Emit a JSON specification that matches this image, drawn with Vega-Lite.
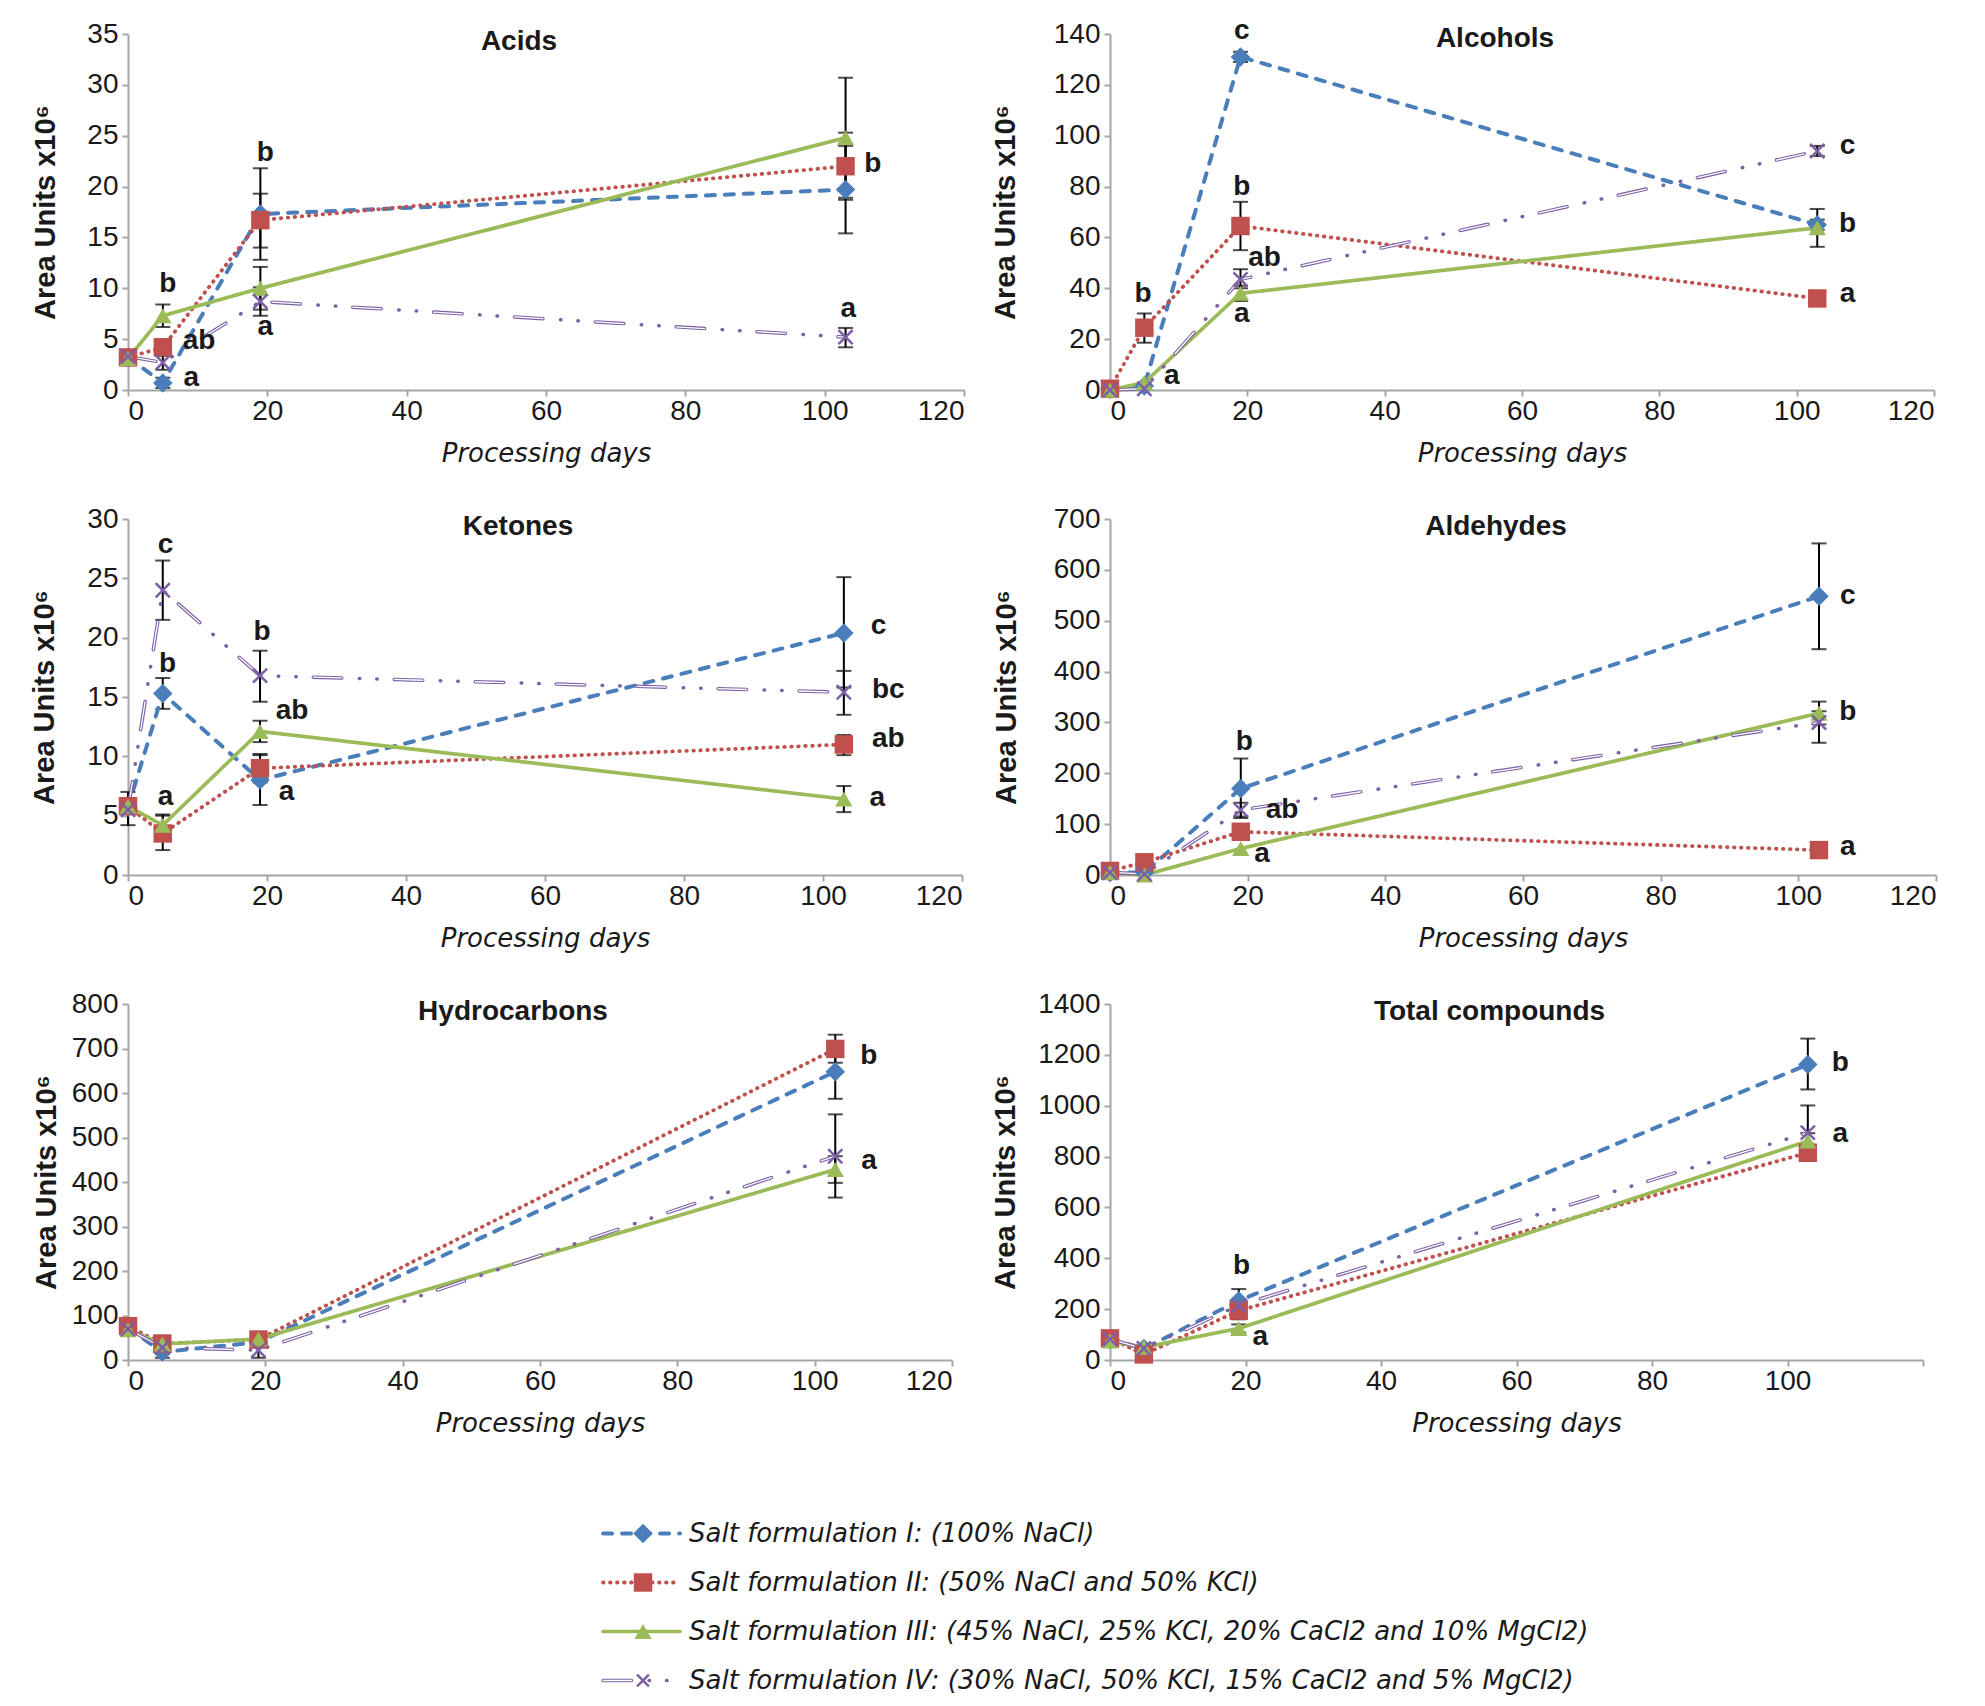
{
  "$schema": "https://vega.github.io/schema/vega-lite/v6.json",
  "background": "white",
  "padding": {"left": 30, "top": 17, "right": 10, "bottom": 0},
  "config": {
    "view": {"stroke": null},
    "font": "Liberation Sans",
    "axis": {
      "grid": false,
      "domainColor": "#A6A6A6", "domainWidth": 2,
      "tickColor": "#A6A6A6", "tickWidth": 2, "tickSize": 6,
      "labelFont": "Liberation Sans", "labelFontSize": 28, "labelColor": "#1a1a1a",
      "titleColor": "#1a1a1a"
    },
    "axisX": {"labelPadding": 1, "titleFont": "DejaVu Sans", "titleFontStyle": "italic", "titleFontWeight": "normal", "titleFontSize": 26, "titlePadding": 15},
    "axisY": {"labelPadding": 4, "titleFont": "Liberation Sans", "titleFontWeight": "bold", "titleFontSize": 29, "titleBaseline": "middle"},
    "title": {"font": "Liberation Sans", "fontSize": 28, "fontWeight": "bold", "color": "#1a1a1a", "anchor": "middle", "frame": "group", "offset": -36, "baseline": "alphabetic", "dx": -27}
  },
  "datasets": {
    "pts": [
      {"panel": "Acids", "series": "I", "day": 0, "v": 3.2},
      {"panel": "Acids", "series": "I", "day": 5, "v": 0.7, "lo": 0.2, "hi": 1.2},
      {"panel": "Acids", "series": "I", "day": 19, "v": 17.3, "lo": 12.8, "hi": 21.8},
      {"panel": "Acids", "series": "I", "day": 103, "v": 19.7, "lo": 15.4, "hi": 24.0},
      {"panel": "Acids", "series": "II", "day": 0, "v": 3.2},
      {"panel": "Acids", "series": "II", "day": 5, "v": 4.2, "lo": 3.4, "hi": 5.0},
      {"panel": "Acids", "series": "II", "day": 19, "v": 16.7, "lo": 14.0, "hi": 19.3},
      {"panel": "Acids", "series": "II", "day": 103, "v": 22.0, "lo": 18.7, "hi": 25.3},
      {"panel": "Acids", "series": "III", "day": 0, "v": 3.1},
      {"panel": "Acids", "series": "III", "day": 5, "v": 7.3, "lo": 6.2, "hi": 8.4},
      {"panel": "Acids", "series": "III", "day": 19, "v": 10.0, "lo": 7.9, "hi": 12.1},
      {"panel": "Acids", "series": "III", "day": 103, "v": 24.8, "lo": 18.9, "hi": 30.7},
      {"panel": "Acids", "series": "IV", "day": 0, "v": 3.3},
      {"panel": "Acids", "series": "IV", "day": 5, "v": 2.7, "lo": 2.0, "hi": 3.4},
      {"panel": "Acids", "series": "IV", "day": 19, "v": 8.7, "lo": 7.3, "hi": 10.1},
      {"panel": "Acids", "series": "IV", "day": 103, "v": 5.2, "lo": 4.2, "hi": 6.1},

      {"panel": "Alcohols", "series": "I", "day": 0, "v": 0.3},
      {"panel": "Alcohols", "series": "I", "day": 5, "v": 1.6},
      {"panel": "Alcohols", "series": "I", "day": 19, "v": 131, "lo": 129, "hi": 133},
      {"panel": "Alcohols", "series": "I", "day": 103, "v": 65, "lo": 63, "hi": 67},
      {"panel": "Alcohols", "series": "II", "day": 0, "v": 0.5},
      {"panel": "Alcohols", "series": "II", "day": 5, "v": 24.5, "lo": 18.6, "hi": 30.1},
      {"panel": "Alcohols", "series": "II", "day": 19, "v": 64.5, "lo": 55, "hi": 74},
      {"panel": "Alcohols", "series": "II", "day": 103, "v": 36},
      {"panel": "Alcohols", "series": "III", "day": 0, "v": 0},
      {"panel": "Alcohols", "series": "III", "day": 5, "v": 2.9},
      {"panel": "Alcohols", "series": "III", "day": 19, "v": 38, "lo": 35, "hi": 41},
      {"panel": "Alcohols", "series": "III", "day": 103, "v": 63.8, "lo": 56.3, "hi": 71.2},
      {"panel": "Alcohols", "series": "IV", "day": 0, "v": 0},
      {"panel": "Alcohols", "series": "IV", "day": 5, "v": 0.5},
      {"panel": "Alcohols", "series": "IV", "day": 19, "v": 43.5, "lo": 40, "hi": 47.5},
      {"panel": "Alcohols", "series": "IV", "day": 103, "v": 94, "lo": 92, "hi": 96},

      {"panel": "Ketones", "series": "I", "day": 0, "v": 5.7, "lo": 4.2, "hi": 7.0},
      {"panel": "Ketones", "series": "I", "day": 5, "v": 15.3, "lo": 14.0, "hi": 16.6},
      {"panel": "Ketones", "series": "I", "day": 19, "v": 8.0, "lo": 5.9, "hi": 10.1},
      {"panel": "Ketones", "series": "I", "day": 103, "v": 20.4, "lo": 15.8, "hi": 25.1},
      {"panel": "Ketones", "series": "II", "day": 0, "v": 5.8},
      {"panel": "Ketones", "series": "II", "day": 5, "v": 3.5, "lo": 2.1, "hi": 5.0},
      {"panel": "Ketones", "series": "II", "day": 19, "v": 9.0, "lo": 7.8, "hi": 10.2},
      {"panel": "Ketones", "series": "II", "day": 103, "v": 11.0, "lo": 10.1, "hi": 11.8},
      {"panel": "Ketones", "series": "III", "day": 0, "v": 5.8},
      {"panel": "Ketones", "series": "III", "day": 5, "v": 4.2, "lo": 3.3, "hi": 5.1},
      {"panel": "Ketones", "series": "III", "day": 19, "v": 12.1, "lo": 11.2, "hi": 13.0},
      {"panel": "Ketones", "series": "III", "day": 103, "v": 6.4, "lo": 5.3, "hi": 7.5},
      {"panel": "Ketones", "series": "IV", "day": 0, "v": 5.5},
      {"panel": "Ketones", "series": "IV", "day": 5, "v": 24.0, "lo": 21.5, "hi": 26.5},
      {"panel": "Ketones", "series": "IV", "day": 19, "v": 16.8, "lo": 14.6, "hi": 18.9},
      {"panel": "Ketones", "series": "IV", "day": 103, "v": 15.4, "lo": 13.5, "hi": 17.2},

      {"panel": "Aldehydes", "series": "I", "day": 0, "v": 5},
      {"panel": "Aldehydes", "series": "I", "day": 5, "v": 5},
      {"panel": "Aldehydes", "series": "I", "day": 19, "v": 170, "lo": 112, "hi": 229},
      {"panel": "Aldehydes", "series": "I", "day": 103, "v": 548, "lo": 444, "hi": 652},
      {"panel": "Aldehydes", "series": "II", "day": 0, "v": 8},
      {"panel": "Aldehydes", "series": "II", "day": 5, "v": 25},
      {"panel": "Aldehydes", "series": "II", "day": 19, "v": 85},
      {"panel": "Aldehydes", "series": "II", "day": 103, "v": 49},
      {"panel": "Aldehydes", "series": "III", "day": 0, "v": 5},
      {"panel": "Aldehydes", "series": "III", "day": 5, "v": 0},
      {"panel": "Aldehydes", "series": "III", "day": 19, "v": 52},
      {"panel": "Aldehydes", "series": "III", "day": 103, "v": 318, "lo": 296, "hi": 341},
      {"panel": "Aldehydes", "series": "IV", "day": 0, "v": 5},
      {"panel": "Aldehydes", "series": "IV", "day": 5, "v": 2},
      {"panel": "Aldehydes", "series": "IV", "day": 19, "v": 128, "lo": 115, "hi": 142},
      {"panel": "Aldehydes", "series": "IV", "day": 103, "v": 300, "lo": 260, "hi": 322},

      {"panel": "Hydrocarbons", "series": "I", "day": 0, "v": 72},
      {"panel": "Hydrocarbons", "series": "I", "day": 5, "v": 18, "lo": 5, "hi": 30},
      {"panel": "Hydrocarbons", "series": "I", "day": 19, "v": 40},
      {"panel": "Hydrocarbons", "series": "I", "day": 103, "v": 648, "lo": 587, "hi": 710},
      {"panel": "Hydrocarbons", "series": "II", "day": 0, "v": 76},
      {"panel": "Hydrocarbons", "series": "II", "day": 5, "v": 37},
      {"panel": "Hydrocarbons", "series": "II", "day": 19, "v": 46},
      {"panel": "Hydrocarbons", "series": "II", "day": 103, "v": 699, "lo": 668, "hi": 731},
      {"panel": "Hydrocarbons", "series": "III", "day": 0, "v": 68},
      {"panel": "Hydrocarbons", "series": "III", "day": 5, "v": 36},
      {"panel": "Hydrocarbons", "series": "III", "day": 19, "v": 47},
      {"panel": "Hydrocarbons", "series": "III", "day": 103, "v": 428, "lo": 398, "hi": 458},
      {"panel": "Hydrocarbons", "series": "IV", "day": 0, "v": 70},
      {"panel": "Hydrocarbons", "series": "IV", "day": 5, "v": 28},
      {"panel": "Hydrocarbons", "series": "IV", "day": 19, "v": 22, "lo": 5, "hi": 38},
      {"panel": "Hydrocarbons", "series": "IV", "day": 103, "v": 458, "lo": 365, "hi": 552},

      {"panel": "Total compounds", "series": "I", "day": 0, "v": 82},
      {"panel": "Total compounds", "series": "I", "day": 5, "v": 45},
      {"panel": "Total compounds", "series": "I", "day": 19, "v": 233, "lo": 186, "hi": 279},
      {"panel": "Total compounds", "series": "I", "day": 103, "v": 1162, "lo": 1064, "hi": 1264},
      {"panel": "Total compounds", "series": "II", "day": 0, "v": 85},
      {"panel": "Total compounds", "series": "II", "day": 5, "v": 22},
      {"panel": "Total compounds", "series": "II", "day": 19, "v": 194, "lo": 160, "hi": 228},
      {"panel": "Total compounds", "series": "II", "day": 103, "v": 815, "lo": 783, "hi": 847},
      {"panel": "Total compounds", "series": "III", "day": 0, "v": 75},
      {"panel": "Total compounds", "series": "III", "day": 5, "v": 50},
      {"panel": "Total compounds", "series": "III", "day": 19, "v": 124, "lo": 108, "hi": 140},
      {"panel": "Total compounds", "series": "III", "day": 103, "v": 861, "lo": 830, "hi": 892},
      {"panel": "Total compounds", "series": "IV", "day": 0, "v": 82},
      {"panel": "Total compounds", "series": "IV", "day": 5, "v": 45},
      {"panel": "Total compounds", "series": "IV", "day": 19, "v": 215},
      {"panel": "Total compounds", "series": "IV", "day": 103, "v": 894, "lo": 788, "hi": 1001}
    ],
    "letters": [
      {"panel": "Acids", "day": 5.7, "v": 10.4, "t": "b"},
      {"panel": "Acids", "day": 10.2, "v": 4.8, "t": "ab"},
      {"panel": "Acids", "day": 9.1, "v": 1.2, "t": "a"},
      {"panel": "Acids", "day": 19.7, "v": 23.3, "t": "b"},
      {"panel": "Acids", "day": 19.7, "v": 6.2, "t": "a"},
      {"panel": "Acids", "day": 106.9, "v": 22.2, "t": "b"},
      {"panel": "Acids", "day": 103.4, "v": 8.0, "t": "a"},
      {"panel": "Alcohols", "day": 19.2, "v": 141, "t": "c"},
      {"panel": "Alcohols", "day": 4.8, "v": 37.6, "t": "b"},
      {"panel": "Alcohols", "day": 9.0, "v": 5.5, "t": "a"},
      {"panel": "Alcohols", "day": 19.2, "v": 80, "t": "b"},
      {"panel": "Alcohols", "day": 22.5, "v": 52, "t": "ab"},
      {"panel": "Alcohols", "day": 19.2, "v": 29.7, "t": "a"},
      {"panel": "Alcohols", "day": 107.4, "v": 96, "t": "c"},
      {"panel": "Alcohols", "day": 107.4, "v": 65.4, "t": "b"},
      {"panel": "Alcohols", "day": 107.4, "v": 37.6, "t": "a"},
      {"panel": "Ketones", "day": 5.4, "v": 27.8, "t": "c"},
      {"panel": "Ketones", "day": 5.7, "v": 17.8, "t": "b"},
      {"panel": "Ketones", "day": 5.4, "v": 6.6, "t": "a"},
      {"panel": "Ketones", "day": 19.3, "v": 20.5, "t": "b"},
      {"panel": "Ketones", "day": 23.6, "v": 13.8, "t": "ab"},
      {"panel": "Ketones", "day": 22.8, "v": 7.0, "t": "a"},
      {"panel": "Ketones", "day": 108.0, "v": 21.0, "t": "c"},
      {"panel": "Ketones", "day": 109.4, "v": 15.6, "t": "bc"},
      {"panel": "Ketones", "day": 109.4, "v": 11.5, "t": "ab"},
      {"panel": "Ketones", "day": 107.8, "v": 6.5, "t": "a"},
      {"panel": "Aldehydes", "day": 19.5, "v": 262, "t": "b"},
      {"panel": "Aldehydes", "day": 25.0, "v": 128, "t": "ab"},
      {"panel": "Aldehydes", "day": 22.1, "v": 41, "t": "a"},
      {"panel": "Aldehydes", "day": 107.2, "v": 548, "t": "c"},
      {"panel": "Aldehydes", "day": 107.2, "v": 321, "t": "b"},
      {"panel": "Aldehydes", "day": 107.2, "v": 56, "t": "a"},
      {"panel": "Hydrocarbons", "day": 107.9, "v": 683, "t": "b"},
      {"panel": "Hydrocarbons", "day": 107.9, "v": 447, "t": "a"},
      {"panel": "Total compounds", "day": 19.4, "v": 370, "t": "b"},
      {"panel": "Total compounds", "day": 22.2, "v": 89, "t": "a"},
      {"panel": "Total compounds", "day": 107.8, "v": 1169, "t": "b"},
      {"panel": "Total compounds", "day": 107.8, "v": 887, "t": "a"}
    ],
    "legend": [
      {"series": "I", "label": "Salt formulation I: (100% NaCl)"},
      {"series": "II", "label": "Salt formulation II: (50% NaCl and 50% KCl)"},
      {"series": "III", "label": "Salt formulation III: (45% NaCl, 25% KCl, 20% CaCl2 and 10% MgCl2)"},
      {"series": "IV", "label": "Salt formulation IV: (30% NaCl, 50% KCl, 15% CaCl2 and 5% MgCl2)"}
    ]
  },
  "bounds": "full",
  "spacing": 73,
  "vconcat": [
    {
      "columns": 2,
      "bounds": "flush",
      "spacing": {"row": 129, "column": 146},
      "concat": [
        {
          "width": 836, "height": 356,
          "title": "Acids",
          "encoding": {
            "x": {"field": "day", "type": "quantitative", "title": "Processing days", "scale": {"domain": [0, 120], "nice": false}, "axis": {"values": [0, 20, 40, 60, 80, 100, 120]}},
            "y": {"field": "v", "type": "quantitative", "title": "Area Units x10⁶", "scale": {"domain": [0, 35], "nice": false}, "axis": {"values": [0, 5, 10, 15, 20, 25, 30, 35], "titleX": -83}}
          },
          "layer": [
            {"data": {"name": "pts"}, "transform": [{"filter": "datum.panel === 'Acids' && isValid(datum.lo)"}], "mark": {"type": "rule", "color": "#000", "strokeWidth": 2}, "encoding": {"y": {"field": "lo", "type": "quantitative", "title": "Area Units x10⁶"}, "y2": {"field": "hi"}}},
            {"data": {"name": "pts"}, "transform": [{"filter": "datum.panel === 'Acids' && isValid(datum.lo)"}, {"fold": ["lo", "hi"], "as": ["end", "v"]}], "mark": {"type": "tick", "orient": "horizontal", "color": "#000", "thickness": 2, "size": 15}},
            {"data": {"name": "pts"}, "transform": [{"filter": "datum.panel === 'Acids'"}], "mark": {"type": "line", "strokeCap": "round", "strokeJoin": "round"}, "encoding": {
              "color": {"field": "series", "type": "nominal", "scale": {"domain": ["I", "II", "III", "IV"], "range": ["#4A7EBB", "#C0504D", "#9BBB59", "#7D5FA6"]}, "legend": null},
              "strokeDash": {"field": "series", "type": "nominal", "scale": {"domain": ["I", "II", "III", "IV"], "range": [[9, 10], [0.5, 6.5], [1, 0], [28.5, 17.5, 0.5, 17, 0.5, 17]]}, "legend": null},
              "strokeWidth": {"field": "series", "type": "ordinal", "scale": {"domain": ["I", "II", "III", "IV"], "range": [4, 3.5, 4.5, 4.5]}, "legend": null}}},
            {"data": {"name": "pts"}, "transform": [{"filter": "datum.panel === 'Acids' && datum.series === 'IV'"}], "mark": {"type": "line", "color": "white", "strokeWidth": 1.3, "strokeDash": [28.5, 52.5], "strokeCap": "round"}},
            {"data": {"name": "pts"}, "transform": [{"filter": "datum.panel === 'Acids' && datum.series !== 'IV'"}], "mark": {"type": "point", "filled": true, "opacity": 1}, "encoding": {
              "color": {"field": "series", "type": "nominal", "legend": null},
              "shape": {"field": "series", "type": "nominal", "scale": {"domain": ["I", "II", "III"], "range": ["diamond", "square", "triangle-up"]}, "legend": null},
              "size": {"field": "series", "type": "ordinal", "scale": {"domain": ["I", "II", "III"], "range": [380, 300, 320]}, "legend": null}}},
            {"data": {"name": "pts"}, "transform": [{"filter": "datum.panel === 'Acids' && datum.series === 'IV'"}], "mark": {"type": "point", "shape": "M-1,-1L1,1M-1,1L1,-1", "filled": false, "color": "#7D5FA6", "strokeWidth": 2.5, "size": 200, "opacity": 1}},
            {"data": {"name": "letters"}, "transform": [{"filter": "datum.panel === 'Acids'"}], "mark": {"type": "text", "font": "Liberation Sans", "fontWeight": "bold", "fontSize": 28, "color": "#1a1a1a", "baseline": "middle"}, "encoding": {"text": {"field": "t"}}}
          ]
        },
        {
          "width": 824, "height": 356,
          "title": "Alcohols",
          "encoding": {
            "x": {"field": "day", "type": "quantitative", "title": "Processing days", "scale": {"domain": [0, 120], "nice": false}, "axis": {"values": [0, 20, 40, 60, 80, 100, 120]}},
            "y": {"field": "v", "type": "quantitative", "title": "Area Units x10⁶", "scale": {"domain": [0, 140], "nice": false}, "axis": {"values": [0, 20, 40, 60, 80, 100, 120, 140], "titleX": -105}}
          },
          "layer": [
            {"data": {"name": "pts"}, "transform": [{"filter": "datum.panel === 'Alcohols' && isValid(datum.lo)"}], "mark": {"type": "rule", "color": "#000", "strokeWidth": 2}, "encoding": {"y": {"field": "lo", "type": "quantitative", "title": "Area Units x10⁶"}, "y2": {"field": "hi"}}},
            {"data": {"name": "pts"}, "transform": [{"filter": "datum.panel === 'Alcohols' && isValid(datum.lo)"}, {"fold": ["lo", "hi"], "as": ["end", "v"]}], "mark": {"type": "tick", "orient": "horizontal", "color": "#000", "thickness": 2, "size": 15}},
            {"data": {"name": "pts"}, "transform": [{"filter": "datum.panel === 'Alcohols'"}], "mark": {"type": "line", "strokeCap": "round", "strokeJoin": "round"}, "encoding": {
              "color": {"field": "series", "type": "nominal", "legend": null},
              "strokeDash": {"field": "series", "type": "nominal", "legend": null},
              "strokeWidth": {"field": "series", "type": "ordinal", "legend": null}}},
            {"data": {"name": "pts"}, "transform": [{"filter": "datum.panel === 'Alcohols' && datum.series === 'IV'"}], "mark": {"type": "line", "color": "white", "strokeWidth": 1.3, "strokeDash": [28.5, 52.5], "strokeCap": "round"}},
            {"data": {"name": "pts"}, "transform": [{"filter": "datum.panel === 'Alcohols' && datum.series !== 'IV'"}], "mark": {"type": "point", "filled": true, "opacity": 1}, "encoding": {
              "color": {"field": "series", "type": "nominal", "legend": null},
              "shape": {"field": "series", "type": "nominal", "legend": null},
              "size": {"field": "series", "type": "ordinal", "legend": null}}},
            {"data": {"name": "pts"}, "transform": [{"filter": "datum.panel === 'Alcohols' && datum.series === 'IV'"}], "mark": {"type": "point", "shape": "M-1,-1L1,1M-1,1L1,-1", "filled": false, "color": "#7D5FA6", "strokeWidth": 2.5, "size": 200, "opacity": 1}},
            {"data": {"name": "letters"}, "transform": [{"filter": "datum.panel === 'Alcohols'"}], "mark": {"type": "text", "font": "Liberation Sans", "fontWeight": "bold", "fontSize": 28, "color": "#1a1a1a", "baseline": "middle"}, "encoding": {"text": {"field": "t"}}}
          ]
        },
        {
          "width": 834, "height": 356,
          "title": "Ketones",
          "encoding": {
            "x": {"field": "day", "type": "quantitative", "title": "Processing days", "scale": {"domain": [0, 120], "nice": false}, "axis": {"values": [0, 20, 40, 60, 80, 100, 120]}},
            "y": {"field": "v", "type": "quantitative", "title": "Area Units x10⁶", "scale": {"domain": [0, 30], "nice": false}, "axis": {"values": [0, 5, 10, 15, 20, 25, 30], "titleX": -84}}
          },
          "layer": [
            {"data": {"name": "pts"}, "transform": [{"filter": "datum.panel === 'Ketones' && isValid(datum.lo)"}], "mark": {"type": "rule", "color": "#000", "strokeWidth": 2}, "encoding": {"y": {"field": "lo", "type": "quantitative", "title": "Area Units x10⁶"}, "y2": {"field": "hi"}}},
            {"data": {"name": "pts"}, "transform": [{"filter": "datum.panel === 'Ketones' && isValid(datum.lo)"}, {"fold": ["lo", "hi"], "as": ["end", "v"]}], "mark": {"type": "tick", "orient": "horizontal", "color": "#000", "thickness": 2, "size": 15}},
            {"data": {"name": "pts"}, "transform": [{"filter": "datum.panel === 'Ketones'"}], "mark": {"type": "line", "strokeCap": "round", "strokeJoin": "round"}, "encoding": {
              "color": {"field": "series", "type": "nominal", "legend": null},
              "strokeDash": {"field": "series", "type": "nominal", "legend": null},
              "strokeWidth": {"field": "series", "type": "ordinal", "legend": null}}},
            {"data": {"name": "pts"}, "transform": [{"filter": "datum.panel === 'Ketones' && datum.series === 'IV'"}], "mark": {"type": "line", "color": "white", "strokeWidth": 1.3, "strokeDash": [28.5, 52.5], "strokeCap": "round"}},
            {"data": {"name": "pts"}, "transform": [{"filter": "datum.panel === 'Ketones' && datum.series !== 'IV'"}], "mark": {"type": "point", "filled": true, "opacity": 1}, "encoding": {
              "color": {"field": "series", "type": "nominal", "legend": null},
              "shape": {"field": "series", "type": "nominal", "legend": null},
              "size": {"field": "series", "type": "ordinal", "legend": null}}},
            {"data": {"name": "pts"}, "transform": [{"filter": "datum.panel === 'Ketones' && datum.series === 'IV'"}], "mark": {"type": "point", "shape": "M-1,-1L1,1M-1,1L1,-1", "filled": false, "color": "#7D5FA6", "strokeWidth": 2.5, "size": 200, "opacity": 1}},
            {"data": {"name": "letters"}, "transform": [{"filter": "datum.panel === 'Ketones'"}], "mark": {"type": "text", "font": "Liberation Sans", "fontWeight": "bold", "fontSize": 28, "color": "#1a1a1a", "baseline": "middle"}, "encoding": {"text": {"field": "t"}}}
          ]
        },
        {
          "width": 826, "height": 356,
          "title": "Aldehydes",
          "encoding": {
            "x": {"field": "day", "type": "quantitative", "title": "Processing days", "scale": {"domain": [0, 120], "nice": false}, "axis": {"values": [0, 20, 40, 60, 80, 100, 120]}},
            "y": {"field": "v", "type": "quantitative", "title": "Area Units x10⁶", "scale": {"domain": [0, 700], "nice": false}, "axis": {"values": [0, 100, 200, 300, 400, 500, 600, 700], "titleX": -104}}
          },
          "layer": [
            {"data": {"name": "pts"}, "transform": [{"filter": "datum.panel === 'Aldehydes' && isValid(datum.lo)"}], "mark": {"type": "rule", "color": "#000", "strokeWidth": 2}, "encoding": {"y": {"field": "lo", "type": "quantitative", "title": "Area Units x10⁶"}, "y2": {"field": "hi"}}},
            {"data": {"name": "pts"}, "transform": [{"filter": "datum.panel === 'Aldehydes' && isValid(datum.lo)"}, {"fold": ["lo", "hi"], "as": ["end", "v"]}], "mark": {"type": "tick", "orient": "horizontal", "color": "#000", "thickness": 2, "size": 15}},
            {"data": {"name": "pts"}, "transform": [{"filter": "datum.panel === 'Aldehydes'"}], "mark": {"type": "line", "strokeCap": "round", "strokeJoin": "round"}, "encoding": {
              "color": {"field": "series", "type": "nominal", "legend": null},
              "strokeDash": {"field": "series", "type": "nominal", "legend": null},
              "strokeWidth": {"field": "series", "type": "ordinal", "legend": null}}},
            {"data": {"name": "pts"}, "transform": [{"filter": "datum.panel === 'Aldehydes' && datum.series === 'IV'"}], "mark": {"type": "line", "color": "white", "strokeWidth": 1.3, "strokeDash": [28.5, 52.5], "strokeCap": "round"}},
            {"data": {"name": "pts"}, "transform": [{"filter": "datum.panel === 'Aldehydes' && datum.series !== 'IV'"}], "mark": {"type": "point", "filled": true, "opacity": 1}, "encoding": {
              "color": {"field": "series", "type": "nominal", "legend": null},
              "shape": {"field": "series", "type": "nominal", "legend": null},
              "size": {"field": "series", "type": "ordinal", "legend": null}}},
            {"data": {"name": "pts"}, "transform": [{"filter": "datum.panel === 'Aldehydes' && datum.series === 'IV'"}], "mark": {"type": "point", "shape": "M-1,-1L1,1M-1,1L1,-1", "filled": false, "color": "#7D5FA6", "strokeWidth": 2.5, "size": 200, "opacity": 1}},
            {"data": {"name": "letters"}, "transform": [{"filter": "datum.panel === 'Aldehydes'"}], "mark": {"type": "text", "font": "Liberation Sans", "fontWeight": "bold", "fontSize": 28, "color": "#1a1a1a", "baseline": "middle"}, "encoding": {"text": {"field": "t"}}}
          ]
        },
        {
          "width": 824, "height": 356,
          "title": "Hydrocarbons",
          "encoding": {
            "x": {"field": "day", "type": "quantitative", "title": "Processing days", "scale": {"domain": [0, 120], "nice": false}, "axis": {"values": [0, 20, 40, 60, 80, 100, 120]}},
            "y": {"field": "v", "type": "quantitative", "title": "Area Units x10⁶", "scale": {"domain": [0, 800], "nice": false}, "axis": {"values": [0, 100, 200, 300, 400, 500, 600, 700, 800], "titleX": -82}}
          },
          "layer": [
            {"data": {"name": "pts"}, "transform": [{"filter": "datum.panel === 'Hydrocarbons' && isValid(datum.lo)"}], "mark": {"type": "rule", "color": "#000", "strokeWidth": 2}, "encoding": {"y": {"field": "lo", "type": "quantitative", "title": "Area Units x10⁶"}, "y2": {"field": "hi"}}},
            {"data": {"name": "pts"}, "transform": [{"filter": "datum.panel === 'Hydrocarbons' && isValid(datum.lo)"}, {"fold": ["lo", "hi"], "as": ["end", "v"]}], "mark": {"type": "tick", "orient": "horizontal", "color": "#000", "thickness": 2, "size": 15}},
            {"data": {"name": "pts"}, "transform": [{"filter": "datum.panel === 'Hydrocarbons'"}], "mark": {"type": "line", "strokeCap": "round", "strokeJoin": "round"}, "encoding": {
              "color": {"field": "series", "type": "nominal", "legend": null},
              "strokeDash": {"field": "series", "type": "nominal", "legend": null},
              "strokeWidth": {"field": "series", "type": "ordinal", "legend": null}}},
            {"data": {"name": "pts"}, "transform": [{"filter": "datum.panel === 'Hydrocarbons' && datum.series === 'IV'"}], "mark": {"type": "line", "color": "white", "strokeWidth": 1.3, "strokeDash": [28.5, 52.5], "strokeCap": "round"}},
            {"data": {"name": "pts"}, "transform": [{"filter": "datum.panel === 'Hydrocarbons' && datum.series !== 'IV'"}], "mark": {"type": "point", "filled": true, "opacity": 1}, "encoding": {
              "color": {"field": "series", "type": "nominal", "legend": null},
              "shape": {"field": "series", "type": "nominal", "legend": null},
              "size": {"field": "series", "type": "ordinal", "legend": null}}},
            {"data": {"name": "pts"}, "transform": [{"filter": "datum.panel === 'Hydrocarbons' && datum.series === 'IV'"}], "mark": {"type": "point", "shape": "M-1,-1L1,1M-1,1L1,-1", "filled": false, "color": "#7D5FA6", "strokeWidth": 2.5, "size": 200, "opacity": 1}},
            {"data": {"name": "letters"}, "transform": [{"filter": "datum.panel === 'Hydrocarbons'"}], "mark": {"type": "text", "font": "Liberation Sans", "fontWeight": "bold", "fontSize": 28, "color": "#1a1a1a", "baseline": "middle"}, "encoding": {"text": {"field": "t"}}}
          ]
        },
        {
          "width": 813, "height": 356,
          "title": "Total compounds",
          "encoding": {
            "x": {"field": "day", "type": "quantitative", "title": "Processing days", "scale": {"domain": [0, 120], "nice": false}, "axis": {"values": [0, 20, 40, 60, 80, 100, 120], "labelExpr": "datum.value === 120 ? '' : datum.label"}},
            "y": {"field": "v", "type": "quantitative", "title": "Area Units x10⁶", "scale": {"domain": [0, 1400], "nice": false}, "axis": {"values": [0, 200, 400, 600, 800, 1000, 1200, 1400], "format": "d", "titleX": -105}}
          },
          "layer": [
            {"data": {"name": "pts"}, "transform": [{"filter": "datum.panel === 'Total compounds' && isValid(datum.lo)"}], "mark": {"type": "rule", "color": "#000", "strokeWidth": 2}, "encoding": {"y": {"field": "lo", "type": "quantitative", "title": "Area Units x10⁶"}, "y2": {"field": "hi"}}},
            {"data": {"name": "pts"}, "transform": [{"filter": "datum.panel === 'Total compounds' && isValid(datum.lo)"}, {"fold": ["lo", "hi"], "as": ["end", "v"]}], "mark": {"type": "tick", "orient": "horizontal", "color": "#000", "thickness": 2, "size": 15}},
            {"data": {"name": "pts"}, "transform": [{"filter": "datum.panel === 'Total compounds'"}], "mark": {"type": "line", "strokeCap": "round", "strokeJoin": "round"}, "encoding": {
              "color": {"field": "series", "type": "nominal", "legend": null},
              "strokeDash": {"field": "series", "type": "nominal", "legend": null},
              "strokeWidth": {"field": "series", "type": "ordinal", "legend": null}}},
            {"data": {"name": "pts"}, "transform": [{"filter": "datum.panel === 'Total compounds' && datum.series === 'IV'"}], "mark": {"type": "line", "color": "white", "strokeWidth": 1.3, "strokeDash": [28.5, 52.5], "strokeCap": "round"}},
            {"data": {"name": "pts"}, "transform": [{"filter": "datum.panel === 'Total compounds' && datum.series !== 'IV'"}], "mark": {"type": "point", "filled": true, "opacity": 1}, "encoding": {
              "color": {"field": "series", "type": "nominal", "legend": null},
              "shape": {"field": "series", "type": "nominal", "legend": null},
              "size": {"field": "series", "type": "ordinal", "legend": null}}},
            {"data": {"name": "pts"}, "transform": [{"filter": "datum.panel === 'Total compounds' && datum.series === 'IV'"}], "mark": {"type": "point", "shape": "M-1,-1L1,1M-1,1L1,-1", "filled": false, "color": "#7D5FA6", "strokeWidth": 2.5, "size": 200, "opacity": 1}},
            {"data": {"name": "letters"}, "transform": [{"filter": "datum.panel === 'Total compounds'"}], "mark": {"type": "text", "font": "Liberation Sans", "fontWeight": "bold", "fontSize": 28, "color": "#1a1a1a", "baseline": "middle"}, "encoding": {"text": {"field": "t"}}}
          ]
        }
      ]
    },
    {
      "width": 1807, "height": 196,
      "data": {"name": "legend"},
      "encoding": {
        "y": {"field": "series", "type": "nominal", "scale": {"type": "point", "domain": ["I", "II", "III", "IV"], "padding": 0.5}, "axis": null}
      },
      "layer": [
        {"mark": {"type": "rule", "strokeCap": "round"}, "encoding": {
          "x": {"datum": 26.29, "type": "quantitative", "scale": {"domain": [0, 100], "nice": false}, "axis": null},
          "x2": {"datum": 30.55},
          "color": {"field": "series", "type": "nominal", "legend": null},
          "strokeDash": {"field": "series", "type": "nominal", "legend": null},
          "strokeWidth": {"field": "series", "type": "ordinal", "legend": null}}},
        {"transform": [{"filter": "datum.series === 'IV'"}], "mark": {"type": "rule", "color": "white", "strokeWidth": 1.3, "strokeDash": [28.5, 52.5], "strokeCap": "round"}, "encoding": {
          "x": {"datum": 26.29, "type": "quantitative"}, "x2": {"datum": 30.55}}},
        {"transform": [{"filter": "datum.series !== 'IV'"}], "mark": {"type": "point", "filled": true, "opacity": 1}, "encoding": {
          "x": {"datum": 28.5, "type": "quantitative"},
          "color": {"field": "series", "type": "nominal", "legend": null},
          "shape": {"field": "series", "type": "nominal", "legend": null},
          "size": {"field": "series", "type": "ordinal", "legend": null}}},
        {"transform": [{"filter": "datum.series === 'IV'"}], "mark": {"type": "point", "shape": "M-1,-1L1,1M-1,1L1,-1", "filled": false, "color": "#7D5FA6", "strokeWidth": 2.5, "size": 140, "opacity": 1}, "encoding": {
          "x": {"datum": 28.5, "type": "quantitative"}}},
        {"mark": {"type": "text", "align": "left", "baseline": "middle", "font": "DejaVu Sans", "fontStyle": "italic", "fontSize": 26, "color": "#1a1a1a"}, "encoding": {
          "x": {"datum": 31.05, "type": "quantitative"},
          "text": {"field": "label"}}}
      ]
    }
  ]
}
